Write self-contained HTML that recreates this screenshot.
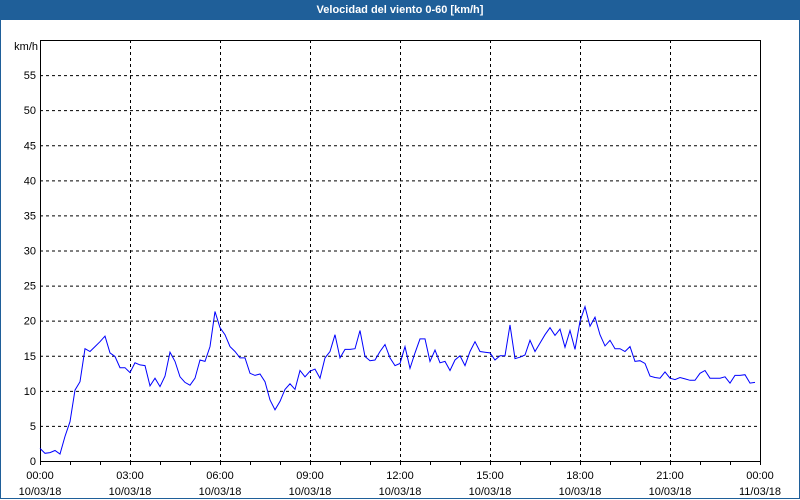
<!DOCTYPE html>
<html><head><meta charset="utf-8"><style>
body{margin:0;width:800px;height:500px;overflow:hidden;background:#fff;font-family:"Liberation Sans",sans-serif}
#win{position:absolute;left:0;top:0;width:798px;height:498px;border:1px solid #1f5f99;border-top:none}
#title{position:absolute;left:0;top:0;width:800px;height:20px;background:#1f5f99;color:#fff;font-weight:bold;font-size:11px;line-height:20px;text-align:center}
</style></head><body>
<div id="win"></div>
<div id="title">Velocidad del viento 0-60 [km/h]</div>
<svg id="chart" width="800" height="500" style="position:absolute;left:0;top:0"></svg>
<script>
const yTicks=[0,5,10,15,20,25,30,35,40,45,50,55];
const xTickHours=[0,3,6,9,12,15,18,21,24];
const xTimeLabels=["00:00","03:00","06:00","09:00","12:00","15:00","18:00","21:00","00:00"];
const xDateLabels=["10/03/18","10/03/18","10/03/18","10/03/18","10/03/18","10/03/18","10/03/18","10/03/18","11/03/18"];
const intervalMinutes=10;
const windSpeed=[1.8,1.1,1.2,1.5,1.0,3.5,5.6,10.1,11.3,16.0,15.6,16.3,17.0,17.8,15.4,14.9,13.3,13.3,12.6,14.0,13.7,13.6,10.7,11.8,10.6,12.1,15.5,14.2,12.0,11.2,10.8,11.8,14.4,14.2,16.3,21.3,19.0,18.0,16.3,15.6,14.7,14.7,12.5,12.2,12.4,11.3,8.7,7.3,8.5,10.2,11.0,10.2,12.9,12.0,12.8,13.1,11.8,14.7,15.6,18.0,14.7,15.9,15.9,16.0,18.6,14.9,14.3,14.4,15.6,16.6,14.7,13.6,13.9,16.3,13.2,15.4,17.4,17.4,14.2,15.8,14.0,14.2,12.9,14.4,15.0,13.6,15.6,17.0,15.6,15.5,15.4,14.4,15.0,15.0,19.4,14.6,14.8,15.1,17.2,15.6,16.8,18.0,19.0,17.9,18.8,16.2,18.6,15.9,19.9,22.0,19.2,20.5,18.0,16.4,17.2,16.0,16.0,15.6,16.3,14.2,14.3,13.9,12.1,11.9,11.8,12.7,11.8,11.6,11.9,11.7,11.5,11.5,12.5,12.9,11.8,11.8,11.8,12.0,11.1,12.2,12.2,12.3,11.1,11.2];

const NS="http://www.w3.org/2000/svg";
const svg=document.getElementById('chart');
const L=40,R=760,T=40,B=461,YMAX=60,XMAX=24*60;
const xs=m=>L+(R-L)*m/XMAX;
const ys=v=>B-(B-T)*v/YMAX;
function mk(tag,at){const e=document.createElementNS(NS,tag);for(const k in at)e.setAttribute(k,at[k]);svg.appendChild(e);return e;}
// y grid + labels
yTicks.forEach(v=>{
  if(v>0){const g=mk('line',{x1:L,x2:R,y1:ys(v)+0.5,y2:ys(v)+0.5,stroke:'#000','stroke-dasharray':'3,3'});
  
  }
  const t=mk('text',{x:L-4,y:ys(v)+4,'text-anchor':'end','font-size':'11',fill:'#000'});
  t.textContent=v;
  
  
});
const u=mk('text',{x:L-2,y:T+10,'text-anchor':'end','font-size':'11',fill:'#000'});
u.textContent='km/h';


// minor hourly ticks
for(let h=0;h<=24;h++){const tk=mk('line',{x1:xs(h*60)+0.5,x2:xs(h*60)+0.5,y1:B,y2:B+4,stroke:'#000'});

}
// x grid + labels
xTickHours.forEach((h,i)=>{
  const x=xs(h*60);
  if(h>0&&h<24){const g=mk('line',{x1:x+0.5,x2:x+0.5,y1:T,y2:B,stroke:'#000','stroke-dasharray':'3,3'});
  
  }
  const t1=mk('text',{x:x,y:B+18,'text-anchor':'middle','font-size':'11',fill:'#000'});
  t1.textContent=xTimeLabels[i];
  
  
  const t2=mk('text',{x:x,y:B+34,'text-anchor':'middle','font-size':'11',fill:'#000'});
  t2.textContent=xDateLabels[i];
  
  
});
const box=mk('rect',{x:L+0.5,y:T+0.5,width:R-L,height:B-T,fill:'none',stroke:'#000'});


const pts=windSpeed.map((v,i)=>xs(i*intervalMinutes).toFixed(1)+','+ys(v).toFixed(1)).join(' ');
const line=mk('polyline',{points:pts,fill:'none',stroke:'#0000ff','stroke-width':'1'});


</script>
</body></html>
